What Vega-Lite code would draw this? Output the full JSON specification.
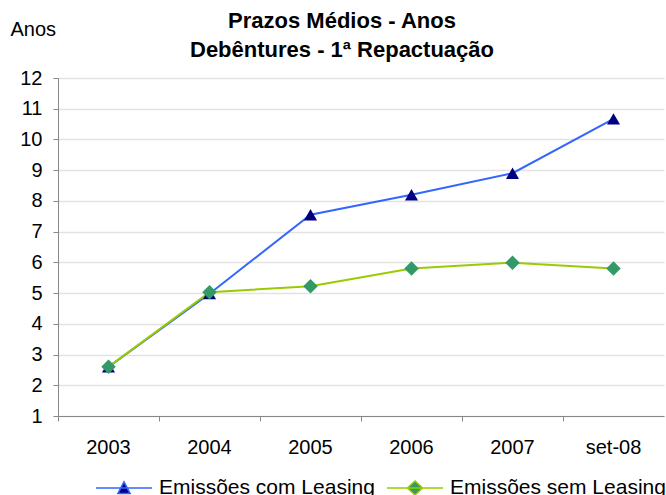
{
  "$schema": "https://vega.github.io/schema/vega-lite/v6.json",
  "width": 606,
  "height": 338,
  "autosize": {"type": "none"},
  "padding": {"left": 58, "top": 78, "right": 2, "bottom": 79},
  "background": "white",
  "title": {
    "text": ["Prazos Médios - Anos", "Debêntures - 1ª Repactuação"],
    "font": "Liberation Sans",
    "fontSize": 22,
    "fontWeight": "bold",
    "color": "#000000",
    "anchor": "middle",
    "dx": -19,
    "offset": -43,
    "lineHeight": 29
  },
  "data": {
    "values": [
      {"cat": "2003", "serie": "Emissões com Leasing", "value": 2.6},
      {"cat": "2004", "serie": "Emissões com Leasing", "value": 4.98},
      {"cat": "2005", "serie": "Emissões com Leasing", "value": 7.55},
      {"cat": "2006", "serie": "Emissões com Leasing", "value": 8.2},
      {"cat": "2007", "serie": "Emissões com Leasing", "value": 8.9},
      {"cat": "set-08", "serie": "Emissões com Leasing", "value": 10.67},
      {"cat": "2003", "serie": "Emissões sem Leasing", "value": 2.6},
      {"cat": "2004", "serie": "Emissões sem Leasing", "value": 5.03},
      {"cat": "2005", "serie": "Emissões sem Leasing", "value": 5.22},
      {"cat": "2006", "serie": "Emissões sem Leasing", "value": 5.8},
      {"cat": "2007", "serie": "Emissões sem Leasing", "value": 5.99},
      {"cat": "set-08", "serie": "Emissões sem Leasing", "value": 5.8}
    ]
  },
  "encoding": {
    "x": {
      "field": "cat",
      "type": "nominal",
      "sort": ["2003", "2004", "2005", "2006", "2007", "set-08"],
      "scale": {"type": "band", "paddingInner": 0, "paddingOuter": 0},
      "axis": {
        "title": null,
        "labelAngle": 0,
        "bandPosition": 0,
        "labelFont": "Liberation Sans",
        "labelFontSize": 20,
        "labelColor": "#000000",
        "labelPadding": 16,
        "domainColor": "#888888",
        "tickColor": "#888888",
        "tickSize": 5,
        "grid": false
      }
    },
    "y": {
      "field": "value",
      "type": "quantitative",
      "scale": {"domain": [1, 12], "nice": false, "zero": false},
      "axis": {
        "values": [1, 2, 3, 4, 5, 6, 7, 8, 9, 10, 11, 12],
        "title": "Anos",
        "titleAngle": 0,
        "titleAlign": "left",
        "titleBaseline": "alphabetic",
        "titleX": -48,
        "titleY": -43,
        "titleFont": "Liberation Sans",
        "titleFontSize": 20,
        "titleFontWeight": "normal",
        "titleColor": "#000000",
        "labelFont": "Liberation Sans",
        "labelFontSize": 20,
        "labelColor": "#000000",
        "labelPadding": 11,
        "domainColor": "#888888",
        "tickColor": "#888888",
        "tickSize": 5,
        "grid": true,
        "gridColor": "#e2e2e2",
        "gridWidth": 1.5
      }
    }
  },
  "layer": [
    {
      "mark": {"type": "line", "strokeWidth": 2},
      "encoding": {
        "color": {
          "field": "serie",
          "type": "nominal",
          "scale": {
            "domain": ["Emissões com Leasing", "Emissões sem Leasing"],
            "range": ["#3366ff", "#99cc00"]
          },
          "legend": {
            "title": null,
            "orient": "none",
            "direction": "horizontal",
            "legendX": 37,
            "legendY": 381,
            "symbolType": "M-1,0H1M0,-0.22L0.22,0.2L-0.22,0.2Z",
            "symbolSize": 3136,
            "symbolStrokeWidth": 1.5,
            "labelFont": "Liberation Sans",
            "labelFontSize": 21,
            "labelColor": "#000000",
            "labelOffset": 6,
            "columnPadding": 9,
            "labelLimit": 400,
            "encode": {
              "symbols": {
                "update": {
                  "fill": {"signal": "datum.value === 'Emissões com Leasing' ? '#000080' : '#339966'"},
                  "shape": {"signal": "datum.value === 'Emissões com Leasing' ? 'M-1,0H1M0,-0.22L0.22,0.2L-0.22,0.2Z' : 'M-1,0H1M0,-0.25L0.27,0L0,0.25L-0.27,0Z'"}
                }
              }
            }
          }
        }
      }
    },
    {
      "transform": [{"filter": "datum.serie === 'Emissões com Leasing'"}],
      "mark": {"type": "point", "shape": "triangle-up", "filled": true, "color": "#000080", "opacity": 1, "size": 170}
    },
    {
      "transform": [{"filter": "datum.serie === 'Emissões sem Leasing'"}],
      "mark": {"type": "point", "shape": "diamond", "filled": true, "color": "#339966", "opacity": 1, "size": 210}
    }
  ],
  "config": {
    "view": {"stroke": null}
  }
}
